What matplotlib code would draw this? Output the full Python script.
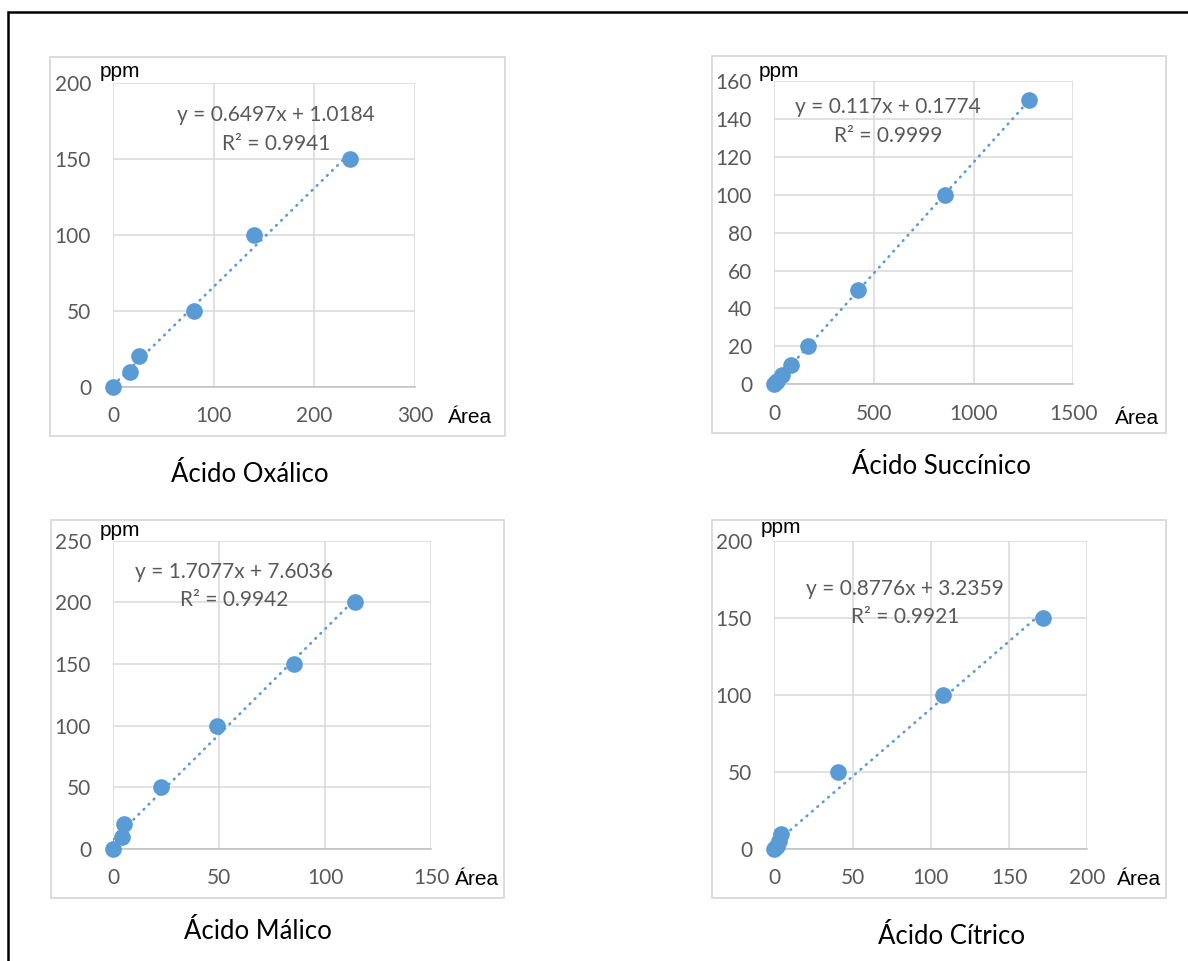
import matplotlib
matplotlib.use("Agg")
import matplotlib.pyplot as plt
from matplotlib.patches import Rectangle
from matplotlib.lines import Line2D
import numpy as np

W, H = 1188, 961

BLUE = "#5B9BD5"
GREY_TEXT = "#595959"
GRID = "#D9D9D9"

plt.rcParams["font.family"] = ["Lato", "DejaVu Sans"]

# calibration curves: peak area vs concentration (ppm)
oxalico_area = [0, 17, 26, 80.5, 140, 235]
oxalico_ppm = [0, 10, 20, 50, 100, 150]
oxalico_fit = (0.6497, 1.0184, 0.9941)

succinico_area = [0, 7, 16, 41, 86, 170, 418, 856, 1279]
succinico_ppm = [0, 1, 2, 5, 10, 20, 50, 100, 150]
succinico_fit = (0.117, 0.1774, 0.9999)

malico_area = [0, 4, 5.2, 22.4, 48.8, 85.5, 114.2]
malico_ppm = [0, 10, 20, 50, 100, 150, 200]
malico_fit = (1.7077, 7.6036, 0.9942)

citrico_area = [0, 1, 2, 2.8, 4.5, 41, 108, 172]
citrico_ppm = [0, 1, 2, 5, 10, 50, 100, 150]
citrico_fit = (0.8776, 3.2359, 0.9921)

titles = ["Ácido Oxálico", "Ácido Succínico", "Ácido Málico", "Ácido Cítrico"]
x_limits = [(300, 100), (1500, 500), (150, 50), (200, 50)]
y_limits = [(200, 50), (160, 20), (250, 50), (200, 50)]

# layout in pixels: plot box (x0, x1, ytop, ybot), chart frame, label spots
layout = [
    dict(box=(113.3, 415, 83.3, 386.7), frame=(50, 57, 505, 436),
         title=(250, 475), eq=(276, 129.5), ppm=(100, 77.3), area=(448, 422.7)),
    dict(box=(774.3, 1073.3, 81, 384.3), frame=(711.7, 55.7, 1165.7, 433),
         title=(941.7, 466.7), eq=(888, 121.7), ppm=(759, 76.7), area=(1115, 424.3)),
    dict(box=(113.3, 431, 540.7, 849), frame=(50.7, 520, 504, 897.7),
         title=(258, 931.7), eq=(233.7, 586), ppm=(100, 535.7), area=(455, 885)),
    dict(box=(774.3, 1087.3, 541, 849), frame=(711.7, 520, 1165.7, 897.7),
         title=(951.7, 936.7), eq=(905.3, 603), ppm=(761, 533.3), area=(1117.3, 885)),
]


def fx(x):
    return x / W


def fy(y):
    return 1 - y / H


def draw_panel(fig, area, ppm, fit, xlim, ylim, title, pos):
    x0, x1, ytop, ybot = pos["box"]
    ax = fig.add_axes([fx(x0), fy(ybot), (x1 - x0) / W, (ybot - ytop) / H])

    # chart frame around the plot
    fl, ft, fr, fb = pos["frame"]
    fig.patches.append(Rectangle((fx(fl), fy(fb)), (fr - fl) / W, (fb - ft) / H,
                                 transform=fig.transFigure, fill=False,
                                 edgecolor=GRID, lw=1.3, zorder=0))

    m, b, r2 = fit
    xs = np.array([min(area), max(area)])
    ax.plot(xs, m * xs + b, color=BLUE, lw=1.9, linestyle=(0, (0.3, 2.4)),
            dash_capstyle="round", zorder=2)
    ax.plot(area, ppm, "o", color=BLUE, ms=12, mew=0, zorder=3, clip_on=False)

    ax.set_xlim(0, xlim[0])
    ax.set_ylim(0, ylim[0])
    ax.set_xticks(np.arange(0, xlim[0] + 1, xlim[1]))
    ax.set_yticks(np.arange(0, ylim[0] + 1, ylim[1]))
    ax.grid(True, color=GRID, lw=1.1)
    ax.set_axisbelow(True)
    for side in ["top", "right", "left"]:
        ax.spines[side].set_visible(False)
    ax.spines["bottom"].set_color("#BFBFBF")
    ax.spines["bottom"].set_linewidth(1.1)
    ax.tick_params(length=0, labelsize=15, labelcolor=GREY_TEXT)
    ax.tick_params(axis="x", pad=14)
    ax.tick_params(axis="y", pad=16)

    fig.text(fx(pos["eq"][0]), fy(pos["eq"][1]),
             f"y = {m}x + {b}\nR² = {r2}", ha="center", va="center",
             multialignment="center", fontsize=15, color=GREY_TEXT,
             linespacing=1.55)
    fig.text(fx(pos["ppm"][0]), fy(pos["ppm"][1]), "ppm", ha="left",
             va="baseline", fontsize=15, family="Liberation Sans")
    fig.text(fx(pos["area"][0]), fy(pos["area"][1]), "Área", ha="left",
             va="baseline", fontsize=15, family="Liberation Sans")
    fig.text(fx(pos["title"][0]), fy(pos["title"][1]), title, ha="center",
             va="center", fontsize=18.5)


fig = plt.figure(figsize=(W / 100, H / 100), dpi=100)

series = [
    (oxalico_area, oxalico_ppm, oxalico_fit),
    (succinico_area, succinico_ppm, succinico_fit),
    (malico_area, malico_ppm, malico_fit),
    (citrico_area, citrico_ppm, citrico_fit),
]
for i, (area, ppm, fit) in enumerate(series):
    draw_panel(fig, area, ppm, fit, x_limits[i], y_limits[i], titles[i], layout[i])

# black border on top and left
fig.lines.append(Line2D([fx(7.5), fx(7.5), 1.0], [0.0, fy(12), fy(12)],
                        transform=fig.transFigure, color="black", lw=1.8,
                        solid_joinstyle="miter"))

fig.savefig("out.png", dpi=100)
